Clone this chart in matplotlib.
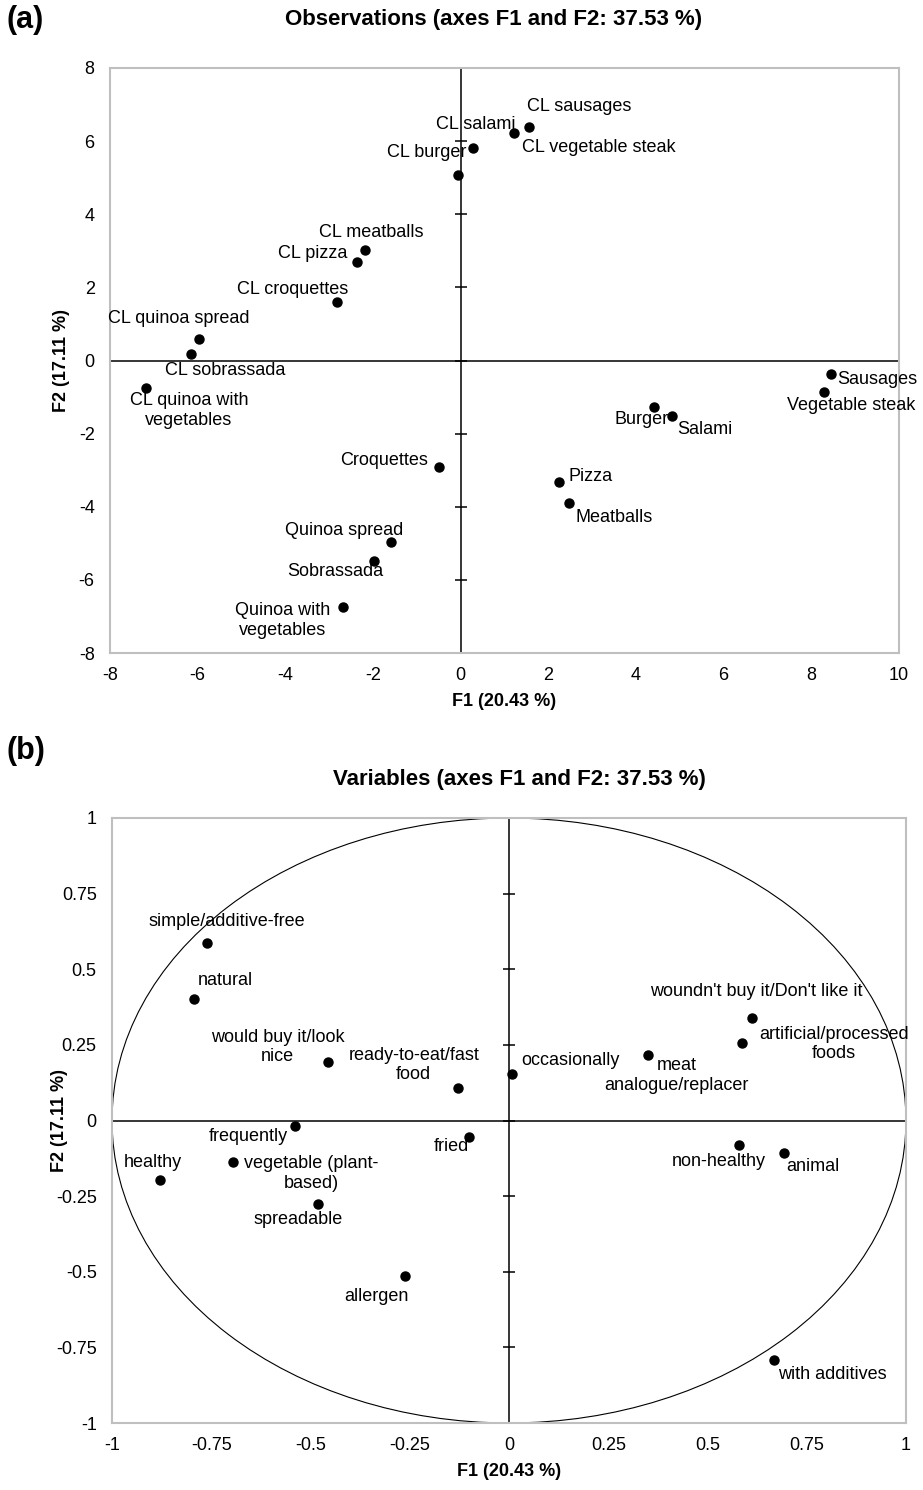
"""PCA biplots: (a) observations, (b) variables on F1/F2."""

import matplotlib

matplotlib.use("Agg")
import matplotlib.pyplot as plt
from matplotlib.patches import Ellipse
import numpy as np

plt.rcParams["font.family"] = ["Liberation Sans", "DejaVu Sans"]

# ---- (a) observations ----
obs_names = [
    "CL sausages", "CL vegetable steak", "CL salami", "CL burger",
    "CL meatballs", "CL pizza", "CL croquettes", "CL quinoa spread",
    "CL sobrassada", "CL quinoa with\nvegetables",
    "Sausages", "Vegetable steak", "Burger", "Salami", "Pizza", "Meatballs",
    "Croquettes", "Quinoa spread", "Sobrassada", "Quinoa with\nvegetables",
]
obs_f1 = [1.57, 1.21, 0.29, -0.05, -2.18, -2.37, -2.83, -5.97, -6.15, -7.18,
          8.44, 8.30, 4.41, 4.82, 2.24, 2.47, -0.49, -1.58, -1.97, -2.69]
obs_f2 = [6.39, 6.21, 5.80, 5.06, 3.02, 2.70, 1.60, 0.59, 0.19, -0.76,
          -0.36, -0.87, -1.26, -1.53, -3.32, -3.90, -2.90, -4.96, -5.48, -6.75]
# label centre relative to its point, in pixels
obs_offsets = [(50, 20), (85, -14), (2, 24), (-32, 23), (6, 18), (-44, 8),
               (-44, 12), (-20, 20), (34, -17), (43, -22),
               (47, -6), (27, -13), (-12, -13), (33, -13), (32, 5), (45, -14),
               (-55, 6), (-47, 11), (-39, -11), (-60, -13)]
ticks_a_x = [-8, -6, -4, -2, 0, 2, 4, 6, 8, 10]
ticks_a_y = [-8, -6, -4, -2, 0, 2, 4, 6, 8]

# ---- (b) variables ----
var_names = [
    "simple/additive-free", "natural", "would buy it/look\nnice",
    "ready-to-eat/fast\nfood", "occasionally", "frequently", "fried",
    "healthy", "vegetable (plant-\nbased)", "spreadable",
    "woundn't buy it/Don't like it", "artificial/processed\nfoods",
    "meat\nanalogue/replacer", "non-healthy", "animal", "allergen",
    "with additives",
]
var_f1 = [-0.761, -0.793, -0.457, -0.129, 0.008, -0.539, -0.101, -0.880,
          -0.694, -0.480, 0.611, 0.587, 0.349, 0.579, 0.693, -0.262, 0.668]
var_f2 = [0.587, 0.402, 0.193, 0.108, 0.154, -0.018, -0.056, -0.197,
          -0.136, -0.277, 0.340, 0.256, 0.218, -0.080, -0.106, -0.515, -0.793]
var_offsets = [(20, 21), (31, 18), (-50, 15), (-44, 23), (58, 13), (-47, -11),
               (-18, -9), (-7, 18), (78, -12), (-20, -15), (5, 26), (92, -1),
               (29, -21), (-20, -17), (29, -14), (-29, -20), (58, -14)]
ticks_b = [-1, -0.75, -0.5, -0.25, 0, 0.25, 0.5, 0.75, 1]
tick_labels_b = ["-1", "-0.75", "-0.5", "-0.25", "0", "0.25", "0.5", "0.75", "1"]

W, H = 923, 1490


def draw_panel(ax, xs, ys, names, offsets, xticks, yticks, xlabels, ylabels,
               ylabel_x):
    ax.axhline(0, color="black", lw=1.1, zorder=1)
    ax.axvline(0, color="black", lw=1.1, zorder=1)
    # crossing tick marks along the vertical centre line
    ax.plot(np.zeros(len(yticks)), yticks, ls="none", marker="_", ms=8,
            mew=1.1, color="black", zorder=1)
    ax.plot(xs, ys, ls="none", marker="o", ms=6.5, color="black", zorder=3)
    for name, x, y, off in zip(names, xs, ys, offsets):
        ax.annotate(name, (x, y), xytext=off, textcoords="offset pixels",
                    ha="center", va="center", multialignment="center",
                    fontsize=13)
    ax.set_xlim(xticks[0], xticks[-1])
    ax.set_ylim(yticks[0], yticks[-1])
    ax.set_xticks(xticks)
    ax.set_xticklabels(xlabels)
    ax.set_yticks(yticks)
    ax.set_yticklabels(ylabels)
    ax.tick_params(axis="x", length=0, pad=10, labelsize=13)
    ax.tick_params(axis="y", length=0, pad=11, labelsize=13)
    for sp in ax.spines.values():
        sp.set_color("#bfbfbf")
        sp.set_linewidth(1.5)
    ax.set_xlabel("F1 (20.43 %)", fontweight="bold", fontsize=13)
    ax.set_ylabel("F2 (17.11 %)", fontweight="bold", fontsize=13)
    bbox = ax.get_position()
    h_px = bbox.height * H
    w_px = bbox.width * W
    ax.xaxis.set_label_coords(0.5, -48 / h_px)
    ax.xaxis.label.set_va("center")
    ax.yaxis.set_label_coords(ylabel_x / w_px, 0.5)
    ax.yaxis.label.set_va("center")


fig = plt.figure(figsize=(W / 100, H / 100), dpi=100)

ax_a = fig.add_axes([110 / W, 1 - 653 / H, 789 / W, 585 / H])
draw_panel(ax_a, obs_f1, obs_f2, obs_names, obs_offsets, ticks_a_x, ticks_a_y,
           [str(t) for t in ticks_a_x], [str(t) for t in ticks_a_y], -48)

ax_b = fig.add_axes([112 / W, 1 - 1423 / H, 794 / W, 605 / H])
ax_b.add_patch(Ellipse((0, 0), 2, 2, fill=False, ec="black", lw=0.8, zorder=1))
draw_panel(ax_b, var_f1, var_f2, var_names, var_offsets, ticks_b, ticks_b,
           tick_labels_b, tick_labels_b, -52)

fig.text(7 / W, 1 - 20 / H, "(a)", fontsize=22, fontweight="bold", va="center")
fig.text(494 / W, 1 - 20 / H, "Observations (axes F1 and F2: 37.53 %)",
         fontsize=16, fontweight="bold", ha="center", va="center")
fig.text(7 / W, 1 - 751 / H, "(b)", fontsize=22, fontweight="bold", va="center")
fig.text(519 / W, 1 - 779 / H, "Variables (axes F1 and F2: 37.53 %)",
         fontsize=16, fontweight="bold", ha="center", va="center")

fig.savefig("out.png", dpi=100)
plt.close(fig)
